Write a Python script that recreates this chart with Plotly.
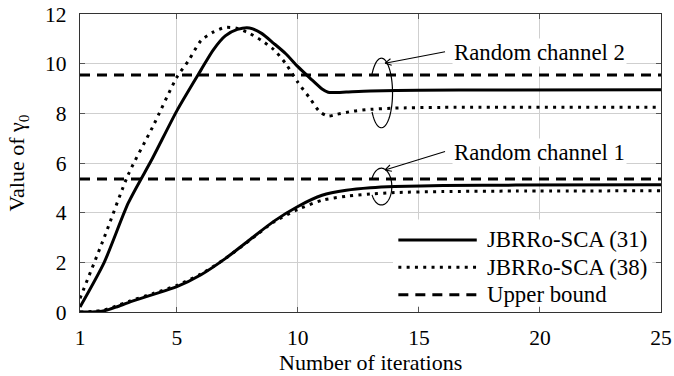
import numpy as np
import plotly.graph_objects as go

# ---- data -------------------------------------------------------------
# Random channel 2
iter_ch2_31 = [1, 2, 3, 4, 5, 6, 6.5, 7, 7.5, 8, 8.5, 9, 9.5, 10, 10.5, 11,
               11.25, 11.5, 12, 13, 15, 18, 25]
gamma_ch2_31 = [0.2, 2.0, 4.4, 6.2, 8.1, 9.75, 10.55, 11.12, 11.38, 11.44,
                11.22, 10.82, 10.4, 9.88, 9.42, 8.98, 8.85, 8.84, 8.86, 8.9,
                8.93, 8.94, 8.95]

iter_ch2_38 = [1, 2, 3, 4, 5, 5.5, 6, 6.5, 7, 7.5, 8, 8.5, 9, 9.5, 10, 10.5,
               10.9, 11.25, 11.6, 12.3, 13, 14, 16, 25]
gamma_ch2_38 = [0.55, 3.0, 5.55, 7.45, 9.45, 10.15, 10.93, 11.27, 11.46,
                11.42, 11.22, 10.93, 10.57, 10.0, 9.25, 8.6, 8.07, 7.89, 7.96,
                8.09, 8.16, 8.21, 8.24, 8.25]

# Random channel 1
iter_ch1_31 = [1, 1.5, 2, 2.5, 3, 4, 5, 6, 7, 8, 9, 10, 11, 12, 13, 14, 16,
               19, 25]
gamma_ch1_31 = [0.0, 0.0, 0.05, 0.2, 0.38, 0.7, 1.02, 1.5, 2.15, 2.9, 3.65,
                4.25, 4.7, 4.9, 5.0, 5.05, 5.09, 5.11, 5.12]

iter_ch1_38 = [1, 1.5, 2, 2.5, 3, 4, 5, 6, 7, 8, 9, 10, 11, 12, 13, 14, 16,
               19, 25]
gamma_ch1_38 = [0.0, 0.02, 0.08, 0.24, 0.42, 0.74, 1.07, 1.53, 2.15, 2.88,
                3.62, 4.13, 4.5, 4.66, 4.75, 4.81, 4.85, 4.87, 4.88]

# Upper bounds
bound_iters = [1, 25]
upper_bound_ch2 = 9.54
upper_bound_ch1 = 5.36

x_ticks = [1, 5, 10, 15, 20, 25]
y_ticks = [0, 2, 4, 6, 8, 10, 12]

legend_labels = ["JBRRo-SCA (31)", "JBRRo-SCA (38)", "Upper bound"]
channel_labels = ["Random channel 2", "Random channel 1"]
x_title = "Number of iterations"
y_title = "Value of γ<sub>0</sub>"

# ---- styling ----------------------------------------------------------
SERIF = "Liberation Serif, Times New Roman, serif"
LW = 3
DASH = "10px,7px"
DOT = "3px,5.3px"

W, H = 674, 376
M_L, M_R, M_T, M_B = 80, 13, 14, 64
X_RANGE = (1, 25)
Y_RANGE = (0, 12)
# pixels per data unit, used to keep the arrowheads' angles right
SX = (W - M_L - M_R) / (X_RANGE[1] - X_RANGE[0])
SY = (H - M_T - M_B) / (Y_RANGE[1] - Y_RANGE[0])

fig = go.Figure()

for ub in (upper_bound_ch2, upper_bound_ch1):
    fig.add_trace(go.Scatter(x=bound_iters, y=[ub, ub], mode="lines",
                             line=dict(color="black", width=LW, dash=DASH),
                             showlegend=False, hoverinfo="skip"))

for xs, ys in ((iter_ch2_38, gamma_ch2_38), (iter_ch1_38, gamma_ch1_38)):
    fig.add_trace(go.Scatter(x=xs, y=ys, mode="lines",
                             line=dict(color="black", width=LW, dash=DOT,
                                       shape="spline", smoothing=0.7),
                             showlegend=False))

for xs, ys in ((iter_ch2_31, gamma_ch2_31), (iter_ch1_31, gamma_ch1_31)):
    fig.add_trace(go.Scatter(x=xs, y=ys, mode="lines",
                             line=dict(color="black", width=LW,
                                       shape="spline", smoothing=0.7),
                             showlegend=False))

shapes = []


def loop_path(cx, cy, rx, ry, gap_from, gap_to):
    """Ellipse outline with an opening on its left side (angles in deg)."""
    t = np.radians(np.linspace(gap_to, gap_from + 360, 90))
    px = cx + rx * np.cos(t)
    py = cy + ry * np.sin(t)
    d = "M %.4f,%.4f " % (px[0], py[0])
    d += " ".join("L %.4f,%.4f" % (a, b) for a, b in zip(px[1:], py[1:]))
    return d


def arrow_path(x0, y0, x1, y1, head_px=7.0, spread_deg=28):
    """Straight arrow from (x0, y0) to (x1, y1) with an open head."""
    dx, dy = (x1 - x0) * SX, (y1 - y0) * SY
    ang = np.arctan2(dy, dx)
    d = "M %.4f,%.4f L %.4f,%.4f " % (x0, y0, x1, y1)
    for s in (-1, 1):
        a = ang + np.pi + s * np.radians(spread_deg)
        hx = x1 + head_px * np.cos(a) / SX
        hy = y1 + head_px * np.sin(a) / SY
        d += "M %.4f,%.4f L %.4f,%.4f " % (x1, y1, hx, hy)
    return d


shapes.append(dict(type="path", xref="x", yref="y", layer="above",
                   path=loop_path(13.45, 8.82, 0.46, 1.40, 151, 213),
                   line=dict(color="black", width=1.2)))
shapes.append(dict(type="path", xref="x", yref="y", layer="above",
                   path=loop_path(13.45, 5.05, 0.43, 0.74, 158, 207),
                   line=dict(color="black", width=1.2)))

# legend block
shapes.append(dict(type="rect", xref="x", yref="y", layer="between",
                   x0=13.93, x1=24.64, y0=0.24, y1=3.72,
                   fillcolor="white", line=dict(width=0)))
legend_rows = [2.9, 1.8, 0.69]
legend_dash = ["solid", DOT, DASH]
annotations = []
for row, dash, label in zip(legend_rows, legend_dash, legend_labels):
    shapes.append(dict(type="line", xref="x", yref="y", layer="above",
                       x0=14.15, x1=17.39, y0=row, y1=row,
                       line=dict(color="black", width=LW, dash=dash)))
    annotations.append(dict(x=17.72, y=row, xref="x", yref="y", text=label,
                            showarrow=False, xanchor="left", yanchor="middle",
                            font=dict(family=SERIF, size=22.8, color="black")))

# channel labels with arrows pointing at their loops
for label, ty, tail_y, head_y in ((channel_labels[0], 10.43, 10.48, 10.02),
                                  (channel_labels[1], 6.41, 6.46, 5.72)):
    annotations.append(dict(x=20.0, y=ty, xref="x", yref="y", text=label,
                            showarrow=False, xanchor="center",
                            yanchor="middle", bgcolor="white",
                            font=dict(family=SERIF, size=22.8, color="black")))
    shapes.append(dict(type="path", xref="x", yref="y", layer="above",
                       path=arrow_path(16.08, tail_y, 13.6, head_y),
                       line=dict(color="black", width=1.1)))

# x-axis title placed below the tick labels
annotations.append(dict(x=0.5, y=-0.168, xref="paper", yref="paper",
                        text=x_title, showarrow=False, xanchor="center",
                        yanchor="middle",
                        font=dict(family=SERIF, size=22, color="black")))

axis_common = dict(showline=True, linecolor="#333333", linewidth=1.2,
                   mirror="ticks", ticks="inside", ticklen=5,
                   tickcolor="#555555", tickwidth=1, showgrid=True,
                   gridcolor="#cfcfcf", gridwidth=1, zeroline=False,
                   automargin=False,
                   tickfont=dict(family=SERIF, size=21.5, color="black"))

fig.update_layout(
    width=W, height=H,
    margin=dict(l=M_L, r=M_R, t=M_T, b=M_B),
    plot_bgcolor="white", paper_bgcolor="white",
    showlegend=False,
    shapes=shapes, annotations=annotations,
    xaxis=dict(range=list(X_RANGE), tickvals=x_ticks, ticklabelstandoff=6,
               **axis_common),
    yaxis=dict(range=list(Y_RANGE), tickvals=y_ticks, ticklabelstandoff=8,
               title=dict(text=y_title, standoff=14,
                          font=dict(family=SERIF, size=22, color="black")),
               **axis_common),
)

fig.write_html("out.html")
